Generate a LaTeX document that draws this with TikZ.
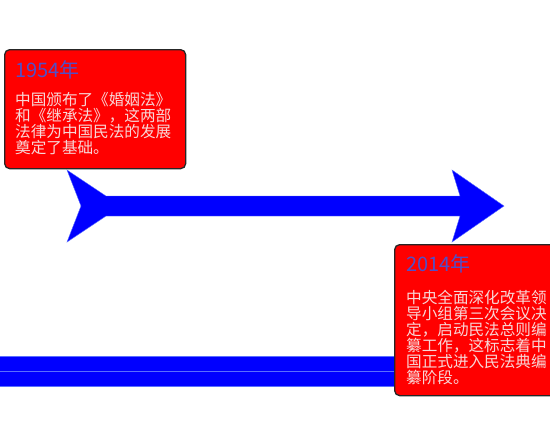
\documentclass[tikz,border=0pt]{standalone}
\usepackage{fontspec}
\setmainfont{Noto Sans CJK SC}
\definecolor{boxred}{RGB}{255,0,0}
\definecolor{arrowblue}{RGB}{0,0,255}
\definecolor{edgeblue}{RGB}{90,110,255}
\definecolor{titleblue}{RGB}{80,80,200}
\definecolor{bodytext}{RGB}{248,215,215}
\tikzset{
  eventbox/.style={draw=black!85, line width=1.3bp, fill=boxred, rounded corners=5bp, anchor=north west, inner sep=0pt},
  yeartext/.style={anchor=base west, inner sep=0pt, text=titleblue, font=\fontsize{20bp}{22bp}\selectfont},
  bodytxt/.style={anchor=north west, inner sep=0pt, align=left, text=bodytext, font=\fontsize{15.6bp}{16bp}\selectfont},
  barpart/.style={fill=arrowblue, draw=edgeblue, line width=0.6bp},
}
\begin{document}
\begin{tikzpicture}[x=1bp,y=-1bp]
\useasboundingbox (0,0) rectangle (550,420);
% bottom bar
\path[barpart] (-2,356) rectangle (396,371);
\path[barpart] (-2,371) rectangle (396,386);
% big arrow
\path[fill=arrowblue, draw=edgeblue, line width=0.4bp]
  (67,170) -- (106,196) -- (460,196) -- (452,170) -- (504,206) -- (452,242) -- (460,216) -- (106,216) -- (67,242) -- (81,206) -- cycle;
% box 1
\node[eventbox, minimum width=181bp, minimum height=119bp] (box1) at (4,49) {};
\node[yeartext] (year1) at (15,77) {1954年};
\node[bodytxt] (body1) at (15,92) {中国颁布了《婚姻法》\\和《继承法》，这两部\\法律为中国民法的发展\\奠定了基础。};
% box 2
\node[eventbox, minimum width=170bp, minimum height=151bp] (box2) at (394,244) {};
\node[yeartext] (year2) at (406,271) {2014年};
\node[bodytxt] (body2) at (406,290) {中央全面深化改革领\\导小组第三次会议决\\定，启动民法总则编\\纂工作，这标志着中\\国正式进入民法典编\\纂阶段。};
\end{tikzpicture}
\end{document}
